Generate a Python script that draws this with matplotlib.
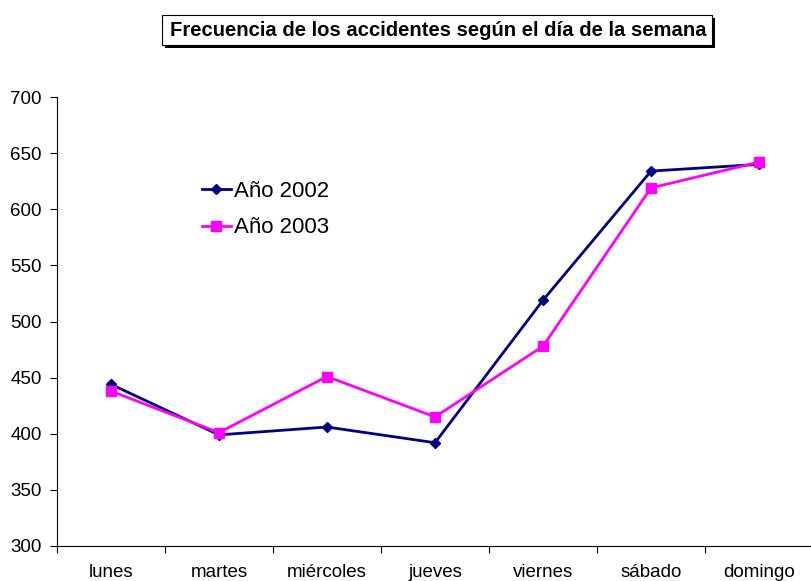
import numpy as np
import matplotlib.pyplot as plt

plt.rcParams['font.family'] = ['Liberation Sans', 'DejaVu Sans']

#===================================================================================
#                           data
#===================================================================================
dias    = ['lunes', 'martes', 'miércoles', 'jueves', 'viernes', 'sábado', 'domingo']
a_2002  = [444, 399, 406, 392, 519, 634, 640]
a_2003  = [438, 401, 451, 415, 478, 619, 642]
yticks  = [300, 350, 400, 450, 500, 550, 600, 650, 700]

W, H = 811, 581
#===================================================================================
#                              plot
#===================================================================================
fig = plt.figure(figsize=(W/100, H/100), dpi=100)
ax = fig.add_axes([57/W, 35/H, 756/W, 449/H])

a_x = np.arange(len(dias))
ax.plot(a_x, a_2002, color='#000080', lw=2, marker='D', ms=5.5, label='Año 2002')
ax.plot(a_x, a_2003, color='#FF00FF', lw=2, marker='s', ms=7, label='Año 2003')

ax.set_xlim(-0.5, len(dias) - 0.5)
ax.set_ylim(300, 700)
ax.set_yticks(yticks)
ax.tick_params(axis='y', labelsize=13.5, length=5, width=0.8, pad=6)

# category labels between ticks
ax.set_xticks(np.arange(-0.5, len(dias) - 0.5, 1.0))
ax.set_xticklabels([])
ax.set_xticks(a_x, minor=True)
ax.set_xticklabels(dias, minor=True, fontsize=13.5)
ax.tick_params(axis='x', which='major', length=5, width=0.8)
ax.tick_params(axis='x', which='minor', length=0, pad=13)

ax.spines['top'].set_visible(False)
ax.spines['right'].set_visible(False)

ax.legend(loc='upper left', bbox_to_anchor=(193/W, 1 - 172/H), bbox_transform=fig.transFigure,
          frameon=False, fontsize=16, handlelength=1.3, handletextpad=0.15, labelspacing=0.7,
          borderaxespad=0)

# title box with shadow
fig.patches.append(plt.Rectangle((165/W, 1 - 48/H), 550/W, 30/H, transform=fig.transFigure,
                                 fc='black', ec='none', zorder=0))
fig.patches.append(plt.Rectangle((162/W, 1 - 45/H), 550/W, 30/H, transform=fig.transFigure,
                                 fc='white', ec='black', lw=0.8, zorder=1))
fig.text(438/W, 1 - 30/H, 'Frecuencia de los accidentes según el día de la semana',
         ha='center', va='center', fontsize=14.6, fontweight='bold', zorder=2)

fig.savefig('out.png', dpi=100)
